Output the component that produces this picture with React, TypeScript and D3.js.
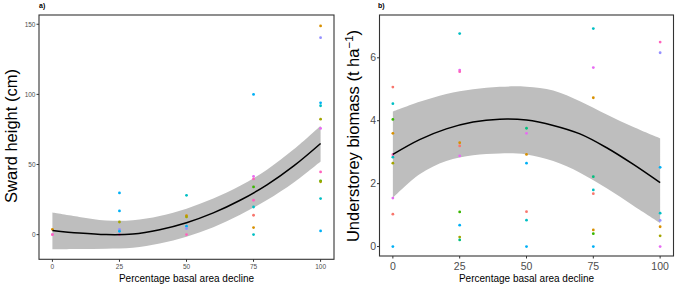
import React from "react";
import * as d3 from "d3";

// ---------- data ----------
const siteColors = ["#F8766D", "#D89000", "#A3A500", "#39B600", "#00BF7D", "#00BFC4", "#00B0F6", "#9590FF", "#E76BF3", "#FF62BC"];

// Panel a: sward height (cm) — [decline %, value, site]
const swardPoints: [number, number, number][] = [
  [0, 3.8, 1], [0, 0, 8], [0, 0, 9],
  [25, 29.7, 6], [25, 16.9, 6], [25, 9, 2], [25, 3.8, 7], [25, 2.4, 6], [25, 0, 9],
  [50, 28, 5], [50, 13.5, 1], [50, 12.6, 2], [50, 6, 6], [50, 4.3, 7], [50, 0, 9],
  [75, 100, 6], [75, 41.6, 8], [75, 39.7, 9], [75, 34, 3], [75, 24.5, 9], [75, 19.7, 5], [75, 13.8, 0], [75, 5, 1], [75, 0, 5],
  [100, 148.8, 1], [100, 140.4, 7], [100, 94, 6], [100, 91.9, 5], [100, 82.3, 2], [100, 75.7, 8], [100, 44.7, 9], [100, 38.3, 3], [100, 37.7, 2], [100, 25.7, 5], [100, 2.6, 6],
];
const swardFitX = [0, 10, 20, 30, 40, 50, 60, 70, 80, 90, 100];
const swardFit = [3, 1.1, 0, 0.4, 3.5, 8.5, 15.5, 24.5, 35.5, 49, 65];
const swardLower = [-10.5, -10.3, -10, -9.4, -6.3, -1.5, 5.3, 14.2, 24.7, 37.2, 52.2];
const swardUpper = [15.7, 12.6, 10.1, 10.2, 13.3, 18.5, 25.7, 34.8, 46.3, 60.8, 77.7];

// Panel b: understorey biomass (t/ha) — [decline %, value, site]
const biomassPoints: [number, number, number][] = [
  [0, 5.07, 0], [0, 4.54, 5], [0, 4.04, 3], [0, 3.6, 1], [0, 2.92, 9], [0, 2.84, 5], [0, 2.65, 2], [0, 1.54, 8], [0, 1.03, 0], [0, 0, 6],
  [25, 6.77, 5], [25, 5.61, 8], [25, 5.56, 9], [25, 3.3, 1], [25, 3.2, 0], [25, 2.88, 8], [25, 1.1, 3], [25, 0.68, 6], [25, 0.3, 2], [25, 0.21, 4],
  [50, 3.76, 4], [50, 3.6, 8], [50, 2.93, 1], [50, 2.65, 6], [50, 1.11, 0], [50, 0.84, 5], [50, 0, 6],
  [75, 6.93, 5], [75, 5.69, 8], [75, 4.73, 1], [75, 2.22, 4], [75, 1.8, 5], [75, 1.68, 0], [75, 0.53, 1], [75, 0.41, 3], [75, 0, 6],
  [100, 6.5, 9], [100, 6.16, 7], [100, 2.52, 6], [100, 1.06, 5], [100, 0.83, 7], [100, 0.63, 1], [100, 0.34, 2], [100, 0, 8],
];
const biomassFitX = [0, 10, 20, 30, 40, 50, 60, 70, 80, 90, 100];
const biomassFit = [2.93, 3.4, 3.74, 3.96, 4.05, 4.02, 3.85, 3.58, 3.14, 2.61, 2.03];
const biomassLower = [1.55, 2.3, 2.72, 2.9, 2.96, 2.93, 2.72, 2.35, 1.85, 1.3, 0.75];
const biomassUpper = [4.29, 4.6, 4.85, 5.0, 5.08, 5.08, 4.96, 4.62, 4.2, 3.8, 3.44];

const xTicks = [0, 25, 50, 75, 100];
const swardTicks = [0, 50, 100, 150];
const biomassTicks = [0, 2, 4, 6];

const FONT = "Liberation Sans, Arial, sans-serif";

type PanelProps = {
  x0: number; x1: number; y0: number; y1: number;
  yDomain: [number, number];
  points: [number, number, number][];
  fitX: number[]; fit: number[]; lower: number[]; upper: number[];
  yTicks: number[]; tickFont: number; tag: string; tagX: number;
};

function Panel(p: PanelProps) {
  const x = d3.scaleLinear().domain([-5, 105]).range([p.x0, p.x1]);
  const y = d3.scaleLinear().domain(p.yDomain).range([p.y1, p.y0]);
  const idx = d3.range(p.fitX.length);
  const area = d3.area<number>()
    .x((i) => x(p.fitX[i]))
    .y0((i) => y(p.lower[i]))
    .y1((i) => y(p.upper[i]))
    .curve(d3.curveCatmullRom);
  const line = d3.line<number>()
    .x((i) => x(p.fitX[i]))
    .y((i) => y(p.fit[i]))
    .curve(d3.curveCatmullRom);
  return (
    <g>
      <path d={area(idx) || ""} fill="#BEBEBE" />
      {p.points.map((d, i) => (
        <circle key={i} cx={x(d[0])} cy={y(d[1])} r={1.4} fill={siteColors[d[2]]} />
      ))}
      <path d={line(idx) || ""} fill="none" stroke="#000" strokeWidth={1.5} />
      <rect x={p.x0} y={p.y0} width={p.x1 - p.x0} height={p.y1 - p.y0} fill="none" stroke="#333" strokeWidth={1.1} />
      {xTicks.map((t) => (
        <g key={"x" + t}>
          <line x1={x(t)} x2={x(t)} y1={p.y1} y2={p.y1 + 2.5} stroke="#333" strokeWidth={1} />
          <text x={x(t)} y={p.y1 + 3 + p.tickFont} textAnchor="middle" fontSize={p.tickFont} fill="#4D4D4D" fontFamily={FONT}>{t}</text>
        </g>
      ))}
      {p.yTicks.map((t) => (
        <g key={"y" + t}>
          <line x1={p.x0 - 2.5} x2={p.x0} y1={y(t)} y2={y(t)} stroke="#333" strokeWidth={1} />
          <text x={p.x0 - 3.5} y={y(t)} dy="0.35em" textAnchor="end" fontSize={p.tickFont} fill="#4D4D4D" fontFamily={FONT}>{t}</text>
        </g>
      ))}
      <text x={(p.x0 + p.x1) / 2} y={281.5} textAnchor="middle" fontSize={10} fill="#000" fontFamily={FONT}>Percentage basal area decline</text>
      <text x={p.tagX} y={8} fontSize={7} fontWeight="bold" fill="#000" fontFamily={FONT}>{p.tag}</text>
    </g>
  );
}

export default function App() {
  return (
    <svg width={675} height={286} style={{ position: "absolute", left: 0, top: 0, background: "#fff" }}>
      <rect x={0} y={0} width={675} height={286} fill="#fff" />
      <Panel x0={39} x1={334} y0={15} y1={259.3} yDomain={[-17.6, 156.6]} points={swardPoints}
        fitX={swardFitX} fit={swardFit} lower={swardLower} upper={swardUpper}
        yTicks={swardTicks} tickFont={6.5} tag="a)" tagX={39} />
      <Panel x0={379.5} x1={673.5} y0={15} y1={256} yDomain={[-0.3, 7.36]} points={biomassPoints}
        fitX={biomassFitX} fit={biomassFit} lower={biomassLower} upper={biomassUpper}
        yTicks={biomassTicks} tickFont={10.5} tag="b)" tagX={378} />
      <text transform="translate(16.5,136) rotate(-90)" textAnchor="middle" fontSize={16.5} fill="#000" fontFamily={FONT}>Sward height (cm)</text>
      <text transform="translate(358.5,136) rotate(-90)" textAnchor="middle" fontSize={16.5} fill="#000" fontFamily={FONT}>
        Understorey biomass (t  ha<tspan fontSize={11.5} dy={-6}>−1</tspan><tspan dy={6}>)</tspan>
      </text>
    </svg>
  );
}
